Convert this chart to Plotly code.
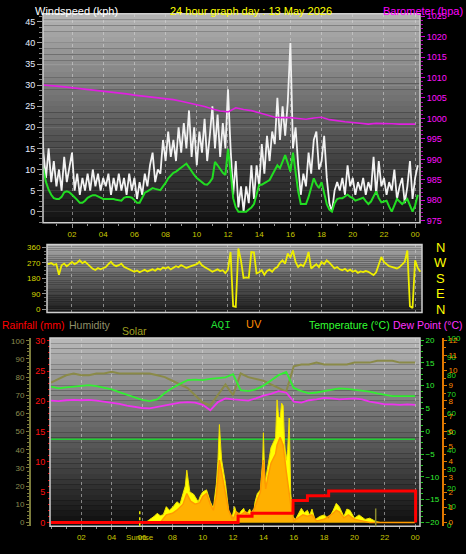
import plotly.graph_objects as go

# ---------------- DATA ----------------
# Panel 1: wind (10-minute samples, hours since midnight)
wind_hours = [round(i / 6, 4) for i in range(146)]
wind_gust = [
    26, 14, 8, 15, 7, 12,
    6, 10, 5, 13, 7, 11,
    14, 5, 9, 4, 8, 5,
    9, 5, 10, 6, 9, 5,
    8, 6, 9, 4, 8, 5,
    9, 5, 8, 4, 9, 5,
    8, 3, 7, 4, 9, 6,
    11, 14, 7, 10, 9, 17,
    12, 19, 13, 17, 12, 20,
    14, 21, 15, 24, 13, 20,
    11, 19, 14, 22, 12, 18,
    25, 15, 23, 13, 21, 15,
    29, 15, 4, 12, 1, 6,
    0, 6, 2, 11, 3, 11,
    6, 16, 9, 18, 12, 19,
    16, 27, 17, 25, 18, 26,
    40, 15, 20, 11, 4, 9,
    6, 14, 9, 17, 19, 10,
    12, 18, 8, 2, 0, 5,
    7, 5, 8, 4, 11, 6,
    8, 4, 7, 5, 8, 4,
    7, 5, 13, 4, 12, 6,
    8, 4, 7, 5, 10, 3,
    6, 8, 2, 6, 12, 3,
    8, 11,
]
wind_avg = [
    12.3, 10, 7, 5.2, 4, 3.2,
    3, 3, 3.5, 4.6, 4.8, 4.6,
    4, 3.5, 2.8, 2.1, 2.1, 2.6,
    3.3, 3.6, 3.9, 3.9, 3.6, 3.3,
    3, 3, 3, 3, 3, 2.8,
    2.7, 2.6, 3.3, 3.5, 3.5, 3.3,
    2.8, 2.1, 2.1, 3.2, 4.5, 4.8,
    5.2, 5.6, 5.4, 5.2, 5.1, 6,
    6.8, 7.9, 8.5, 9.2, 9.5, 10,
    10.6, 11, 11.4, 10.5, 9.5, 8.7,
    8, 7.5, 7, 6.5, 6.4, 7,
    7.9, 11.8, 11, 10, 9.2, 8.7,
    14.9, 9.5, 3.2, 1, 0, 0,
    0, 0, 0.5, 1, 1.8, 4.5,
    6.4, 6.4, 6.8, 7.1, 7.5, 8.7,
    10, 11, 10.3, 12, 13.4, 11.5,
    9.5, 14, 8.7, 4.8, 1.8, 1.8,
    1.8, 3.5, 5.6, 7.9, 6.5, 5.6,
    7, 4, 1.8, 0.5, 0, 2,
    3, 3.2, 3.2, 3.6, 4, 3.5,
    3.2, 2.6, 2.8, 3.1, 3.3, 2.5,
    1.8, 2.4, 3.5, 4.8, 3.2, 2.2,
    2.4, 2.6, 1.2, 0, 1.5, 3,
    2.4, 1.8, 2.4, 3, 1.5, 0,
    1.5, 4,
]
baro_hours = [i / 2 for i in range(49)]
baro_hpa = [
    1008.2, 1008.1, 1007.9, 1007.7, 1007.5, 1007.3, 1007.1, 1006.9, 1006.7, 1006.5,
    1006.2, 1006.0, 1005.7, 1005.5, 1005.3, 1005.1, 1004.8, 1004.6, 1004.2, 1003.8,
    1003.4, 1002.9, 1002.3, 1001.8, 1001.6, 1002.6, 1002.2, 1001.9, 1001.4, 1000.9,
    1000.3, 1000.2, 1000.2, 1000.0, 999.8, 1000.1, 1000.3, 999.7, 999.4, 999.2,
    999.0, 998.8, 998.6, 998.8, 998.8, 998.7, 998.6, 998.6, 998.6,
]

# Panel 2: wind direction (degrees)
dir_hours = [round(i / 6, 4) for i in range(147)]
wind_dir = [
    307, 285, 270, 262, 268, 258,
    262, 200, 255, 265, 250, 262,
    275, 262, 270, 284, 268, 276,
    262, 250, 235, 228, 240, 232,
    237, 245, 262, 275, 258, 250,
    256, 265, 247, 240, 234, 227,
    218, 225, 215, 222, 230, 220,
    227, 232, 224, 237, 230, 242,
    237, 245, 232, 240, 250, 244,
    256, 248, 240, 246, 252, 258,
    262, 275, 255, 245, 238, 228,
    218, 225, 232, 222, 227, 210,
    230, 332, 19, 15, 352, 284,
    182, 185, 183, 332, 330, 208,
    215, 227, 200, 222, 230, 218,
    237, 245, 270, 284, 265, 323,
    300, 341, 275, 246, 260, 250,
    280, 332, 237, 250, 262, 245,
    275, 262, 284, 270, 255, 237,
    245, 232, 227, 235, 222, 230,
    218, 225, 212, 220, 216, 222,
    218, 210, 199, 215, 260, 303,
    275, 265, 250, 246, 240, 237,
    245, 260, 275, 341, 19, 9,
    284, 240, 218,
]
dir_ticks = [0, 90, 180, 270, 360]
compass = ["N", "E", "S", "W", "N"]

# Panel 3: half-hourly temperature / dew point / humidity
half_hours = [i / 2 for i in range(49)]
temperature = [
    9.8, 9.4, 9.6, 9.8, 10.0, 10.1, 9.9, 9.5, 9.2, 8.6,
    8.0, 7.4, 6.9, 6.6, 7.0, 8.4, 9.5, 10.4, 11.2, 11.3,
    11.2, 11.5, 11.6, 11.8, 12.5, 9.0, 8.8, 9.2, 10.0, 11.2,
    12.3, 13.0, 9.5, 8.8, 8.3, 8.5, 8.8, 9.1, 9.4, 9.3,
    9.1, 9.0, 8.7, 8.3, 8.0, 7.7, 7.7, 7.7, 7.7,
]
dew_point = [
    6.7, 6.6, 6.8, 6.9, 6.8, 6.9, 6.7, 6.5, 6.2, 6.0,
    5.6, 5.3, 5.1, 5.0, 5.3, 5.6, 5.9, 6.3, 6.4, 6.3,
    5.8, 4.6, 6.4, 7.2, 7.0, 6.8, 6.7, 7.2, 7.8, 8.2,
    8.8, 8.5, 6.5, 6.3, 6.8, 7.0, 7.3, 7.2, 7.0, 7.1,
    7.2, 7.0, 6.5, 6.2, 5.9, 5.9, 5.8, 5.9, 5.8,
]
humidity = [
    77, 79, 81, 82, 81, 81, 82, 82, 83, 82,
    82, 82, 82, 82, 81, 80, 78, 76, 74, 70,
    66, 64.5, 70, 76, 70, 82, 80, 79, 78, 76,
    74, 72, 86, 87, 87, 88, 87, 87, 87, 87,
    88, 88, 88, 89, 89, 89, 88, 88, 88,
]
aqi_hours = list(range(25))
aqi = [46, 46, 46, 46, 46, 46, 46, 46, 46, 46, 46, 46, 46,
       46, 46, 46, 46, 46, 46, 46, 46, 46, 46, 46, 46]
solar_hours = [0, 5.9, 6.3, 6.5, 6.8, 7.0, 7.2, 7.4, 7.6, 7.8, 8.05, 8.3, 8.5, 8.7, 8.85,
               8.95, 9.05, 9.15, 9.4, 9.55, 9.7, 9.85, 10.0, 10.25, 10.4, 10.5, 10.7, 10.9,
               11.0, 11.1, 11.2, 11.25, 11.5, 11.7, 11.9, 12.1, 12.3, 12.5, 12.7, 12.85, 13.0,
               13.1, 13.3, 13.45, 13.6, 13.8, 13.95, 14.0, 14.1, 14.3, 14.5, 14.8, 14.9, 15.0,
               15.1, 15.2, 15.3, 15.4, 15.5, 15.6, 15.7, 15.8, 15.95, 16.1, 16.3, 16.5, 16.7,
               16.9, 17.05, 17.2, 17.4, 17.7, 18.0, 18.3, 18.6, 18.8, 19.0, 19.3, 19.5, 19.7,
               20.0, 20.3, 20.7, 21.0, 21.4, 21.7, 24]
solar_wm2 = [0, 0, 5, 24, 50, 75, 55, 64, 130, 100, 130, 170, 150, 238, 300,
             430, 330, 251, 232, 200, 170, 220, 251, 268, 200, 170, 116, 319,
             500, 805, 600, 511, 320, 105, 24, 130, 45, 90, 116, 60, 90,
             110, 30, 170, 238, 267, 500, 738, 319, 481, 616, 697, 1008, 870,
             859, 981, 960, 643, 511, 600, 859, 238, 49, 22, 76, 116, 80,
             100, 60, 110, 22, 49, 62, 30, 100, 157, 130, 49, 110, 100,
             35, 62, 25, 35, 8, 0, 0]
uv_hours = [0, 7.2, 7.6, 8.0, 8.3, 8.7, 8.95, 9.2, 9.5, 9.8, 10.0, 10.25, 10.5, 10.7, 10.9,
            11.1, 11.3, 11.5, 11.7, 12.0, 12.2, 12.5, 12.8, 13.1, 13.4, 13.6, 13.8, 14.0,
            14.15, 14.3, 14.5, 14.8, 14.9, 15.1, 15.3, 15.5, 15.7, 15.85, 16.0, 16.3, 16.6,
            16.9, 17.2, 17.5, 18.0, 18.6, 18.8, 19.0, 19.3, 19.6, 20.0, 20.5, 21.0, 24]
uv_index = [0, 0, 0.5, 0.6, 0.8, 1.2, 1.9, 1.4, 1.2, 1.3, 1.7, 1.9, 1.2, 0.8, 1.8,
            4.1, 3.0, 2.0, 0.8, 0.2, 0.7, 0.5, 0.7, 0.5, 0.9, 1.5, 2.0, 4.1,
            2.2, 3.0, 3.9, 4.5, 5.1, 5.6, 5.1, 3.4, 1.9, 0.8, 0.1, 0.3, 0.5,
            0.4, 0.5, 0.1, 0.2, 0.6, 0.8, 0.7, 0.3, 0.5, 0.2, 0.1, 0, 0]
rain_hours = [0, 12.33, 13.25, 15.95, 16.9, 18.3, 24.03]
rain_mm = [0, 1.0, 1.5, 3.6, 4.4, 5.2, 0]
sunrise_hour = 5.85
sunset_hour = 21.4
hour_ticks = list(range(2, 25, 2))
hour_labels = ["02", "04", "06", "08", "10", "12", "14", "16", "18", "20", "22", "00"]

# ---------------- FIGURE ----------------
W, H = 466, 554
FONT = "Liberation Sans, Arial, sans-serif"


def px(x):
    return x / W


def py(y):
    return 1 - y / H


fig = go.Figure()

# panel 1
fig.add_trace(go.Scatter(x=wind_hours, y=wind_gust, mode="lines",
                         line=dict(color="#f2f2f2", width=1.8), xaxis="x", yaxis="y"))
fig.add_trace(go.Scatter(x=wind_hours, y=wind_avg, mode="lines",
                         line=dict(color="#22dd22", width=2), xaxis="x", yaxis="y"))
fig.add_trace(go.Scatter(x=baro_hours, y=baro_hpa, mode="lines",
                         line=dict(color="#e020e0", width=1.6), xaxis="x", yaxis="y2"))
# panel 2
fig.add_trace(go.Scatter(x=dir_hours, y=wind_dir, mode="lines",
                         line=dict(color="#eeee00", width=1.8), xaxis="x2", yaxis="y3"))
# panel 3
fig.add_trace(go.Scatter(x=half_hours, y=humidity, mode="lines",
                         line=dict(color="#8a8a48", width=2), xaxis="x3", yaxis="y4"))
fig.add_trace(go.Scatter(x=aqi_hours, y=aqi, mode="lines",
                         line=dict(color="#22cc33", width=1.6), xaxis="x3", yaxis="y5"))
fig.add_trace(go.Scatter(x=solar_hours, y=solar_wm2, mode="lines", fill="tozeroy",
                         fillcolor="#ffff00", line=dict(color="#f0e000", width=1),
                         xaxis="x3", yaxis="y6"))
fig.add_trace(go.Scatter(x=uv_hours, y=uv_index, mode="lines", fill="tozeroy",
                         fillcolor="rgba(255,150,0,0.75)", line=dict(color="#ff9a00", width=1.5),
                         xaxis="x3", yaxis="y7"))
fig.add_trace(go.Scatter(x=half_hours, y=temperature, mode="lines",
                         line=dict(color="#33ee33", width=1.8), xaxis="x3", yaxis="y8"))
fig.add_trace(go.Scatter(x=half_hours, y=dew_point, mode="lines",
                         line=dict(color="#ee33ee", width=1.8), xaxis="x3", yaxis="y8"))
fig.add_trace(go.Scatter(x=rain_hours, y=rain_mm, mode="lines", line_shape="hv",
                         line=dict(color="#ff0000", width=3), xaxis="x3", yaxis="y9"))

# gradient backgrounds
shapes = []


def gradient(xref, yref, top, bottom, n=36):
    for i in range(n):
        g = int(round(bottom + (top - bottom) * (i + 0.5) / n))
        shapes.append(dict(type="rect", xref=xref, yref=yref, x0=0, x1=1,
                           y0=i / n, y1=(i + 1) / n, line=dict(width=0),
                           fillcolor=f"rgb({g},{g},{g})", layer="below"))


gradient("x domain", "y domain", 180, 16)
gradient("x2 domain", "y3 domain", 170, 26)
gradient("x3 domain", "y4 domain", 186, 12)
for xr, yr in (("x domain", "y domain"), ("x2 domain", "y3 domain"), ("x3 domain", "y4 domain")):
    shapes.append(dict(type="rect", xref=xr, yref=yr, x0=0, x1=1, y0=0, y1=1,
                       line=dict(color="#cfcfcf", width=1.5), layer="above"))
shapes.append(dict(type="line", xref="x3", yref="y4 domain", x0=sunrise_hour, x1=sunrise_hour,
                   y0=0, y1=0.095, line=dict(color="#e6e600", width=1.5, dash="dot"), layer="above"))
shapes.append(dict(type="line", xref="x3", yref="y4 domain", x0=sunset_hour, x1=sunset_hour,
                   y0=0, y1=0.095, line=dict(color="#8a8a30", width=1.5), layer="above"))

grid_x = dict(showgrid=True, gridcolor="rgba(215,215,215,0.55)", griddash="dot", gridwidth=1)
tickfont_x = dict(family=FONT, size=8, color="#c8c800")

layout = dict(
    width=W, height=H, margin=dict(l=0, r=0, t=0, b=0),
    paper_bgcolor="#000000", plot_bgcolor="rgba(0,0,0,0)", showlegend=False,
    font=dict(family=FONT),
    xaxis=dict(domain=[px(43), px(420)], range=[0.14, 24.31], anchor="y",
               tickmode="array", tickvals=hour_ticks, ticktext=hour_labels, tickfont=tickfont_x,
               ticks="outside", ticklen=4, tickcolor="#909090",
               minor=dict(dtick=1, tick0=0, ticks="outside", ticklen=2, tickcolor="#909090"),
               zeroline=False, showline=False, **grid_x),
    yaxis=dict(domain=[py(222), py(10)], range=[-2.64, 46.9], anchor="x",
               tick0=0, dtick=5, tickfont=dict(family=FONT, size=9, color="#e6eeff"),
               ticks="outside", ticklen=5, tickcolor="#a0a0a0",
               minor=dict(dtick=1.25, tick0=0, ticks="outside", ticklen=3, tickcolor="#808080"),
               showgrid=True, gridcolor="rgba(255,255,255,0.10)", zeroline=False),
    yaxis2=dict(overlaying="y", side="right", anchor="x", range=[974.5, 1025.55],
                tick0=975, dtick=5, tickfont=dict(family=FONT, size=9, color="#ff10ff"),
                ticks="outside", ticklen=4, tickcolor="#d000d0",
                minor=dict(dtick=1, tick0=975, ticks="outside", ticklen=2, tickcolor="#b000b0"),
                showgrid=False, zeroline=False),
    xaxis2=dict(domain=[px(47), px(422)], range=[0.4, 24.44], anchor="y3",
                tickmode="array", tickvals=hour_ticks, showticklabels=False, ticks="",
                zeroline=False, **grid_x),
    yaxis3=dict(domain=[py(313), py(244)], range=[-17, 375.4], anchor="x2",
                tickmode="array", tickvals=dir_ticks,
                tickfont=dict(family=FONT, size=8, color="#d8d800"),
                ticks="outside", ticklen=4, tickcolor="#909090",
                minor=dict(dtick=22.5, tick0=0, ticks="outside", ticklen=2, tickcolor="#707070"),
                showgrid=True, gridcolor="rgba(255,255,255,0.10)", zeroline=False),
    xaxis3=dict(domain=[px(50), px(420)], range=[-0.066, 24.32], anchor="y4",
                tickmode="array", tickvals=hour_ticks, ticktext=hour_labels, tickfont=tickfont_x,
                ticks="outside", ticklen=3, tickcolor="#909090",
                minor=dict(dtick=1, tick0=0, ticks="outside", ticklen=2, tickcolor="#909090"),
                zeroline=False, showline=False, **grid_x),
    yaxis4=dict(domain=[py(530), py(339)], range=[-2.2, 101.5], anchor="free",
                position=px(30), side="left", tick0=0, dtick=10,
                tickfont=dict(family=FONT, size=8, color="#8c8c50"),
                showline=True, linecolor="#7c7c3c", linewidth=2,
                ticks="outside", ticklen=3, tickcolor="#7c7c3c",
                minor=dict(dtick=2, tick0=0, ticks="outside", ticklen=2, tickcolor="#7c7c3c"),
                showgrid=False, zeroline=False),
    yaxis5=dict(overlaying="y4", anchor="free", position=px(446), side="right",
                range=[-0.53, 100], tick0=0, dtick=10,
                tickfont=dict(family=FONT, size=8, color="#22dd22"),
                ticks="", showline=False, showgrid=False, zeroline=False),
    yaxis6=dict(overlaying="y4", visible=False, range=[-32, 1516]),
    yaxis7=dict(overlaying="y4", anchor="free", position=px(443), side="right",
                range=[-0.26, 12.13], tick0=0, dtick=1,
                tickfont=dict(family=FONT, size=8, color="#ff8c00"),
                showline=True, linecolor="#e07800", linewidth=2,
                ticks="outside", ticklen=3, tickcolor="#e07800",
                minor=dict(dtick=0.5, tick0=0, ticks="outside", ticklen=2, tickcolor="#e07800"),
                showgrid=False, zeroline=False),
    yaxis8=dict(overlaying="y4", anchor="free", position=px(420), side="right",
                range=[-20.86, 20.43], tick0=-20, dtick=5,
                tickfont=dict(family=FONT, size=8, color="#33ee33"),
                ticks="outside", ticklen=3, tickcolor="#22cc22",
                minor=dict(dtick=1.25, tick0=0, ticks="outside", ticklen=2, tickcolor="#22cc22"),
                showgrid=False, zeroline=False),
    yaxis9=dict(overlaying="y4", anchor="free", position=px(50), side="left",
                range=[-0.65, 30.44], tick0=0, dtick=5,
                tickfont=dict(family=FONT, size=9, color="#ff1010"),
                ticks="outside", ticklen=3, tickcolor="#dd0000",
                minor=dict(dtick=1, tick0=0, ticks="outside", ticklen=2, tickcolor="#dd0000"),
                showgrid=False, zeroline=False),
    shapes=shapes,
)
fig.update_layout(**layout)

ann = []


def label(text, x, y, color, size=11, anchor="left", family=FONT):
    ann.append(dict(text=text, x=px(x), y=py(y), xref="paper", yref="paper",
                    xanchor=anchor, yanchor="middle", showarrow=False,
                    font=dict(family=family, size=size, color=color)))


label("Windspeed (kph)", 33, 7, "#ffffff")
label("24 hour graph day : 13 May 2026", 251, 7, "#ffff00", anchor="center")
label("Barometer (hpa)", 465, 7, "#ff00ff", anchor="right")
for lbl, deg in zip(compass, dir_ticks):
    label(lbl, 440, 310 - deg * 63.3 / 360, "#ffff00", size=13, anchor="center")
label("Rainfall (mm)", 0, 326, "#ff0000", size=10.5)
label("Humidity", 67, 326, "#8f8f68", size=10.5)
label("Solar", 120, 332, "#a0a020", size=10.5)
label("AQI", 221, 326, "#22dd33", size=11, anchor="center", family="Liberation Mono, monospace")
label("UV", 254, 325, "#ff8c00", size=11, anchor="center")
label("Temperature (°C)", 392, 326, "#33ff33", size=10.5, anchor="right")
label("Dew Point (°C)", 465, 326, "#ff33ff", size=10.5, anchor="right")
ann.append(dict(text="Sunrise", x=sunrise_hour, y=py(541), xref="x3", yref="paper",
                xanchor="center", yanchor="middle", showarrow=False,
                font=dict(family=FONT, size=8, color="#c8c800")))
fig.update_layout(annotations=ann)

fig.write_html("out.html", config={"displayModeBar": False},
               post_script="document.body.style.margin='0';document.body.style.padding='0';")
